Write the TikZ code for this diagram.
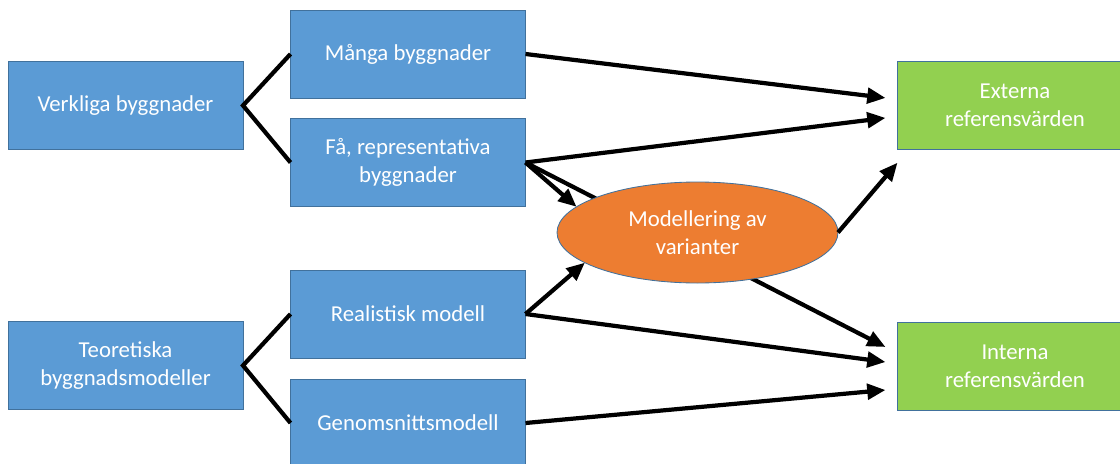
\documentclass[tikz,border=0pt]{standalone}
\usepackage{fontspec}
\setmainfont{Carlito}
\usetikzlibrary{shapes.geometric,arrows.meta,calc}
\definecolor{bla}{HTML}{5B9BD5}
\definecolor{kant}{HTML}{41719C}
\definecolor{gron}{HTML}{92D050}
\definecolor{oran}{HTML}{ED7D31}
\begin{document}
\begin{tikzpicture}[line width=3pt,
		ruta/.style={draw=kant,line width=0.6pt,fill=bla,text=white,minimum width=5.875cm,minimum height=2.2cm,
			inner sep=0pt,outer sep=0pt,align=center,font=\fontsize{16.2}{19.9}\selectfont},
		gronruta/.style={ruta,fill=gron},
		pil/.style={-{Triangle[length=13pt,width=11pt]}}]
	\useasboundingbox (0,0) rectangle (28,-11.575);
	% vanstra kolumnen
	\path (3.1375,-2.6375)node[ruta](vb){Verkliga byggnader}
		(3.1375,-9.1375)node[ruta](tb){Teoretiska\\byggnadsmodeller};
	\path (10.2,-1.35)node[ruta](mb){Många byggnader}
		(10.2,-4.0625)node[ruta](fa){Få, representativa\\byggnader}
		(10.2,-7.85)node[ruta](rm){Realistisk modell}
		(10.2,-10.575)node[ruta](gm){Genomsnittsmodell};
	\path (25.375,-2.6375)node[gronruta](ext){Externa\\referensvärden}
		(25.375,-9.15)node[gronruta](int){Interna\\referensvärden};
	\draw (mb.west)--(vb.east)--(fa.west);
	\draw (rm.west)--(tb.east)--(gm.west);
	% pilspetsar
	\coordinate (e1) at ($(ext.west)+(-0.3,0.19)$);
	\coordinate (e2) at ($(ext.west)+(-0.3,-0.31)$);
	\coordinate (e3) at ($(ext.south west)+(0,-0.33)$);
	\coordinate (i1) at ($(int.west)+(-0.3,0.475)$);
	\coordinate (i2) at ($(int.west)+(-0.3,0.1)$);
	\coordinate (i3) at ($(int.west)+(-0.3,-0.6)$);
	\draw[pil] (fa.east)--(i1);
	\path (17.4375,-5.8125)node[ellipse,draw=kant,line width=0.6pt,fill=oran,text=white,minimum width=7.025cm,
		minimum height=2.525cm,inner sep=0pt,outer sep=0pt,align=center,font=\fontsize{16.2}{19.9}\selectfont](mv){Modellering av\\varianter};
	\draw[pil] (mb.east)--(e1);
	\draw[pil] (fa.east)--(e2);
	\draw[pil] (fa.east)--(mv.168);
	\draw[pil] (rm.east)--(mv.195);
	\draw[pil] (mv.east)--(e3);
	\draw[pil] (rm.east)--(i2);
	\draw[pil] (gm.east)--(i3);
\end{tikzpicture}
\end{document}
